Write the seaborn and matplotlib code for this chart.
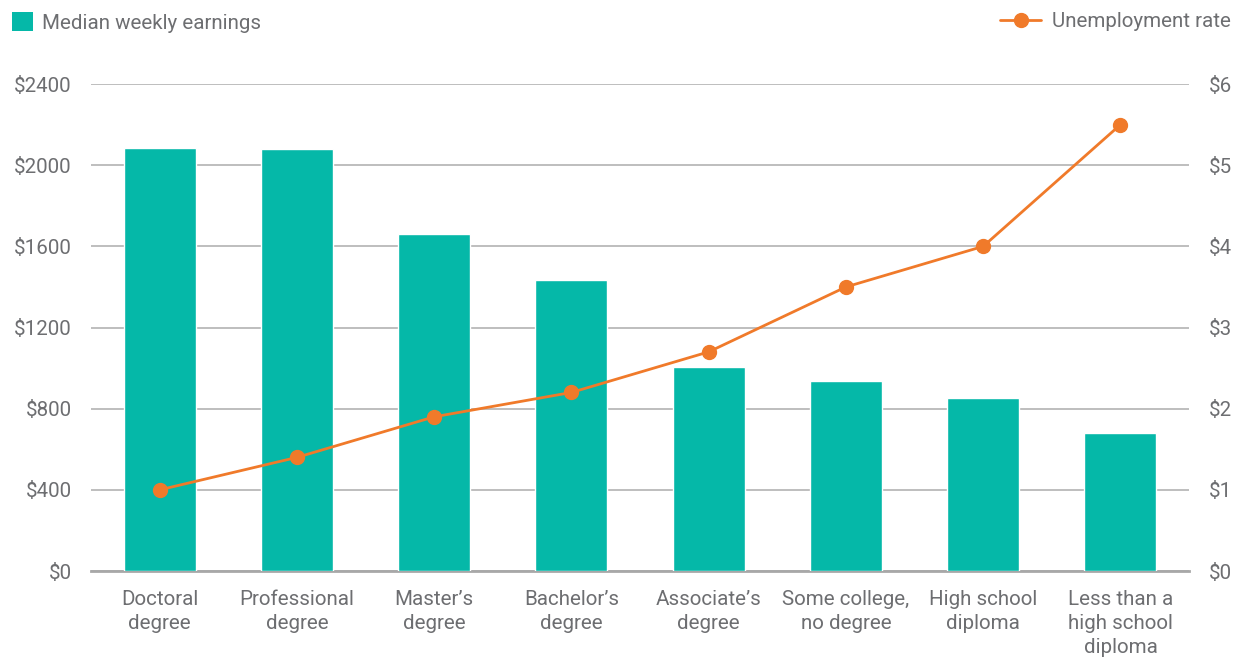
import numpy as np
import pandas as pd
import matplotlib
matplotlib.use("Agg")
import matplotlib.pyplot as plt
import seaborn as sns
from matplotlib.lines import Line2D
from matplotlib.patches import Patch

categories = ["Doctoral\ndegree", "Professional\ndegree", "Master\u2019s\ndegree", "Bachelor\u2019s\ndegree",
              "Associate\u2019s\ndegree", "Some college,\nno degree", "High school\ndiploma",
              "Less than a\nhigh school\ndiploma"]
earnings = [2083, 2080, 1661, 1432, 1005, 935, 853, 682]
unemployment = [1.0, 1.4, 1.9, 2.2, 2.7, 3.5, 4.0, 5.5]
left_ticks = [0, 400, 800, 1200, 1600, 2000, 2400]
right_ticks = [0, 1, 2, 3, 4, 5, 6]

teal = "#05b8a8"
orange = "#f07a2a"
txt = "#6d6e71"
fs = 14.8

df = pd.DataFrame({"cat": categories, "earn": earnings, "unemp": unemployment})

sns.set_theme(style="white")
plt.rcParams["font.family"] = ["Liberation Sans Narrow", "Roboto", "DejaVu Sans"]

fig = plt.figure(figsize=(12.38, 6.59), dpi=100)
ax = fig.add_axes([0.0735, 0.1335, 0.887, 0.739])
sns.barplot(data=df, x="cat", y="earn", color=teal, width=0.525, saturation=1, ax=ax, zorder=3)
ax.set_ylim(0, 2400)
ax.set_xlim(-0.5, 7.5)
ax.set_yticks(left_ticks)
ax.set_yticklabels(["$%d" % v for v in left_ticks])
ax.yaxis.grid(True, color="#b3b3b3", linewidth=1.2, zorder=0)
ax.set_axisbelow(True)
for s in ["top", "right", "left"]:
    ax.spines[s].set_visible(False)
ax.spines["bottom"].set_color("#a8a8a8")
ax.spines["bottom"].set_linewidth(2)
ax.set_xlabel("")
ax.set_ylabel("")
ax.tick_params(axis="both", length=0, labelsize=fs, labelcolor=txt, pad=14)
ax.tick_params(axis="x", pad=14)
for lab in ax.get_xticklabels():
    lab.set_linespacing(1.32)

ax2 = ax.twinx()
ax2.plot(range(len(unemployment)), unemployment, color=orange, linewidth=2,
         marker="o", markersize=10, zorder=5)
ax2.set_ylim(0, 6)
ax2.set_yticks(right_ticks)
ax2.set_yticklabels(["$%d" % v for v in right_ticks])
for s in ["top", "right", "left", "bottom"]:
    ax2.spines[s].set_visible(False)
ax2.tick_params(axis="y", length=0, labelsize=fs, labelcolor=txt, pad=14)
ax2.grid(False)

h1 = [Patch(facecolor=teal, edgecolor="none")]
fig.legend(h1, ["Median weekly earnings"], loc="upper left", bbox_to_anchor=(0.0, 1.0),
           frameon=False, fontsize=fs, labelcolor=txt, handlelength=1.0, handleheight=1.0,
           handletextpad=0.45, borderaxespad=0.2)
h2 = [Line2D([0], [0], color=orange, linewidth=2, marker="o", markersize=10)]
fig.legend(h2, ["Unemployment rate"], loc="upper right", bbox_to_anchor=(1.004, 1.0),
           frameon=False, fontsize=fs, labelcolor=txt, handlelength=2.0,
           handletextpad=0.5, borderaxespad=0.2)

fig.savefig("out.png", dpi=100)
